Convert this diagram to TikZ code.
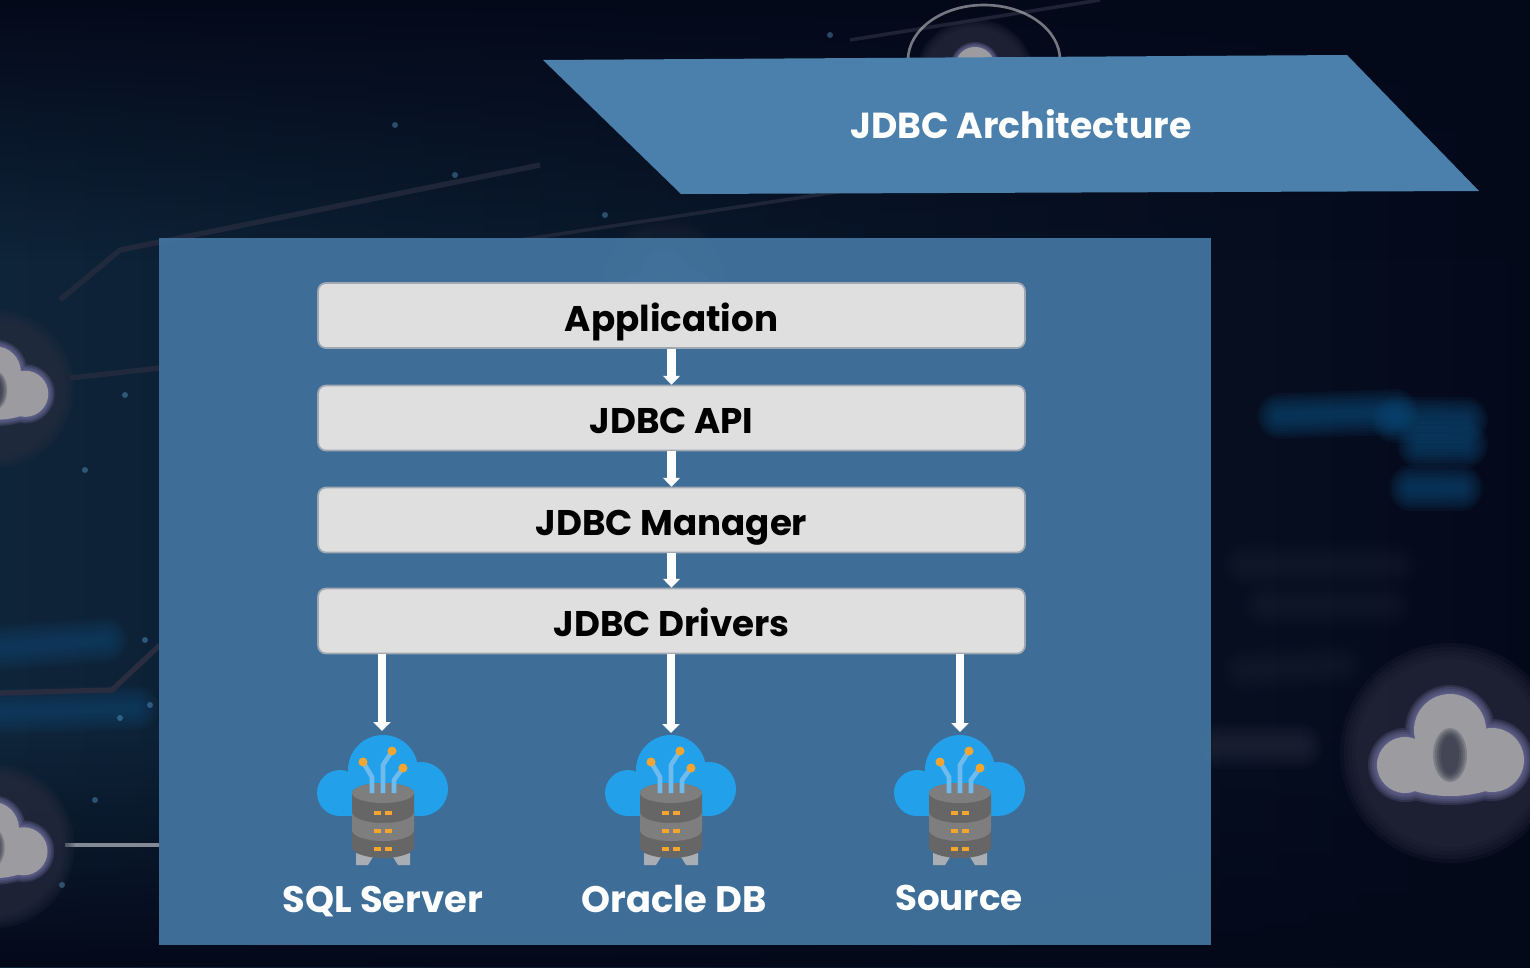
\documentclass[tikz,border=0pt]{standalone}
\usepackage{fontspec}
\setmainfont{Poppins}
\usepackage{xcolor}
\usepackage{tikz}
\usetikzlibrary{arrows.meta,positioning,fadings}
\definecolor{bgdark}{HTML}{04091A}
\definecolor{bgmid}{HTML}{0E2439}
\definecolor{bandblue}{HTML}{0F4A78}
\definecolor{panelblue}{HTML}{41729C}
\definecolor{titleblue}{HTML}{4A80AB}
\definecolor{boxgrey}{HTML}{DFDFDF}
\definecolor{boxline}{HTML}{A0A9B2}
\definecolor{cloudblue}{HTML}{22A0EA}
\definecolor{wireblue}{HTML}{6FBBEE}
\definecolor{dotorange}{HTML}{F4A52F}
\definecolor{drumdark}{HTML}{666666}
\definecolor{drumlight}{HTML}{7E7E7E}
\definecolor{footgrey}{HTML}{A9AEB4}
\definecolor{halo}{HTML}{2A2D40}
\definecolor{blobgrey}{HTML}{9C9CA0}
\tikzset{layer/.style={rectangle,rounded corners=4.5pt,draw=boxline,line width=1pt,fill=boxgrey,minimum width=14.14cm,minimum height=1.3cm,inner sep=0pt,text height=18pt,text depth=0pt,font=\fontsize{20.3}{24}\selectfont\bfseries,text=black},
  dbname/.style={inner sep=0pt,text=white,text height=15pt,text depth=0pt,font=\fontsize{21}{24}\selectfont\bfseries},
  flow/.style={->,white,line width=4.8pt},
  trace/.style={halo,line width=3pt}}
% one database icon, origin at the middle of the drum
\newcommand{\dbicon}[2]{%
  \begin{scope}[shift={(#1,#2)}]
    \fill[cloudblue] (0,-30) circle (35) (-43,-7) circle (23) (38,-11) circle (27);
    \fill[cloudblue] (-43,-16) rectangle (38,16);
    \fill[footgrey] (-27,53) -- (-10,57) -- (-15,65) -- (-27,65) -- cycle;
    \fill[footgrey] (27,53) -- (10,57) -- (15,65) -- (27,65) -- cycle;
    \fill[drumdark] (-31,-7) -- (-31,47) arc[start angle=180,end angle=0,x radius=31,y radius=11] -- (31,-7) arc[start angle=0,end angle=-180,x radius=31,y radius=10] -- cycle;
    \fill[drumlight] (-31,12) arc[start angle=180,end angle=0,x radius=31,y radius=11] -- (31,30) arc[start angle=0,end angle=180,x radius=31,y radius=11] -- cycle;
    \fill[drumlight] (0,-7) ellipse[x radius=31,y radius=10];
    \draw[wireblue,line width=2.6pt] (-11,-7) -- (-11,-23) -- (-20,-38);
    \draw[wireblue,line width=2.6pt] (0,-7) -- (0,-35) -- (9,-49);
    \draw[wireblue,line width=2.6pt] (11,-7) -- (11,-20) -- (20,-32);
    \fill[dotorange] (-20,-38) circle (4.5) (9,-49) circle (4.5) (20,-32) circle (4.5);
    \foreach \ry in {13,31,49}{
      \fill[dotorange] (-9,\ry-2) rectangle (-2,\ry+2);
      \fill[dotorange] (2,\ry-2) rectangle (9,\ry+2);}
  \end{scope}}
% faint blurred cloud of the backdrop
\newcommand{\bgcloud}[4]{%
  \begin{scope}[shift={(#1,#2)},scale=#3]
    \foreach \gr in {110,106,102,98,94}{
      \fill[halo,opacity=0.2*#4] (0,8) circle (\gr);}
    \foreach \gr in {9,7,5,3,1}{
      \fill[blobgrey!80!blue,opacity=0.2*#4] (-45,20) circle (28+\gr) (0,-15) circle (36+\gr) (42,15) circle (32+\gr) (0,25) ellipse[x radius=60+\gr,y radius=26+\gr];}
    \fill[blobgrey,opacity=#4] (-45,20) circle (28) (0,-15) circle (36) (42,15) circle (32) (0,25) ellipse[x radius=60,y radius=26];
    \foreach \gr in {17,15,13,11,9}{
      \fill[halo,opacity=0.25*#4] (0,10) ellipse[x radius=\gr,y radius=\gr+10];}
  \end{scope}}

\begin{document}
\begin{tikzpicture}[x=0.02cm,y=-0.02cm,>={Triangle[length=5pt,width=9.5pt]}]
  \useasboundingbox (0,0) rectangle (1530,967);
  \shade[left color=bgmid,right color=bgdark] (0,0) rectangle (1530,967);
  \fill[bgdark,path fading=south] (0,0) rectangle (1530,260);
  \fill[bgdark,path fading=north] (0,740) rectangle (1530,967);

  % backdrop
  \foreach \bw in {26,23,20,17,14,11,8,5}{
    \draw[bandblue,line width=\bw pt,opacity=0.09,line cap=round] (0,648) -- (105,640);
    \draw[bandblue,line width=\bw pt,opacity=0.09,line cap=round] (0,712) -- (135,708);
    \draw[bandblue,line width=\bw pt,opacity=0.12,line cap=round] (1280,416) -- (1395,412);
    \draw[bandblue,line width=\bw pt,opacity=0.12,line cap=round] (1395,420) -- (1465,420);
    \draw[bandblue,line width=\bw pt,opacity=0.12,line cap=round] (1420,445) -- (1465,445);
    \draw[bandblue,line width=\bw pt,opacity=0.12,line cap=round] (1412,488) -- (1460,488);
    \draw[halo,line width=\bw pt,opacity=0.05,line cap=round] (1245,565) -- (1395,565);
    \draw[halo,line width=\bw pt,opacity=0.05,line cap=round] (1265,605) -- (1390,605);
    \draw[halo,line width=\bw pt,opacity=0.05,line cap=round] (1245,670) -- (1340,665);
    \draw[halo,line width=\bw pt,opacity=0.1,line cap=round] (1218,746) -- (1300,746);
  }
  \draw[trace] (0,693) -- (112,690) -- (160,645);
  \draw[trace,opacity=0.7] (60,300) -- (120,250) -- (540,165);
  \draw[trace,opacity=0.7] (70,378) -- (160,368);
  \draw[trace,line width=2pt,opacity=0.7] (520,240) -- (850,190);
  \draw[trace,line width=2pt,opacity=0.7] (850,40) -- (1100,0);
  \draw[white,opacity=0.5,line width=2pt] (65,845) -- (159,845);
  \bgcloud{975}{75}{0.55}{1}
  \draw[white,opacity=0.45,line width=1.5pt] (908,60) arc[start angle=180,end angle=360,x radius=76,y radius=55];
  \bgcloud{665}{280}{0.6}{0.35}
  \bgcloud{-5}{383}{0.72}{1}
  \bgcloud{-8}{840}{0.75}{1}
  \bgcloud{1450}{745}{1}{1}
  \foreach \dx/\dy in {95/800,62/885,150/705,120/718,145/640,85/470,125/395,395/125,455/175,605/215,830/35}{
    \fill[wireblue,opacity=0.35] (\dx,\dy) circle (3);}

  \fill[titleblue] (543,60) -- (1347,55) -- (1479,191) -- (681,194) -- cycle;
  \fill[panelblue,opacity=0.96] (159,238) rectangle (1211,945);

  \node[dbname,font=\fontsize{20.6}{24}\selectfont\bfseries] (title) at (1021,125) {JDBC Architecture};

  \node[layer] (app) at (671.5,315.5) {Application};
  \node[layer] (api) at (671.5,418) {JDBC API};
  \node[layer] (mgr) at (671.5,520) {JDBC Manager};
  \node[layer] (drv) at (671.5,621) {JDBC Drivers};

  \dbicon{383}{800}
  \dbicon{671}{800}
  \dbicon{960}{800}
  \coordinate (sqltop) at (382,731);
  \coordinate (oratop) at (671,733);
  \coordinate (srctop) at (960,732);

  \node[dbname] (sql) at (383,899) {SQL Server};
  \node[dbname] (ora) at (674,899) {Oracle DB};
  \node[dbname,font=\fontsize{20.3}{24}\selectfont\bfseries] (src) at (959,897) {Source};

  \draw[flow] (app) -- (api);
  \draw[flow] (api) -- (mgr);
  \draw[flow] (mgr) -- (drv);
  \draw[flow] (drv.south -| sqltop) -- (sqltop);
  \draw[flow] (drv.south -| oratop) -- (oratop);
  \draw[flow] (drv.south -| srctop) -- (srctop);
\end{tikzpicture}
\end{document}
